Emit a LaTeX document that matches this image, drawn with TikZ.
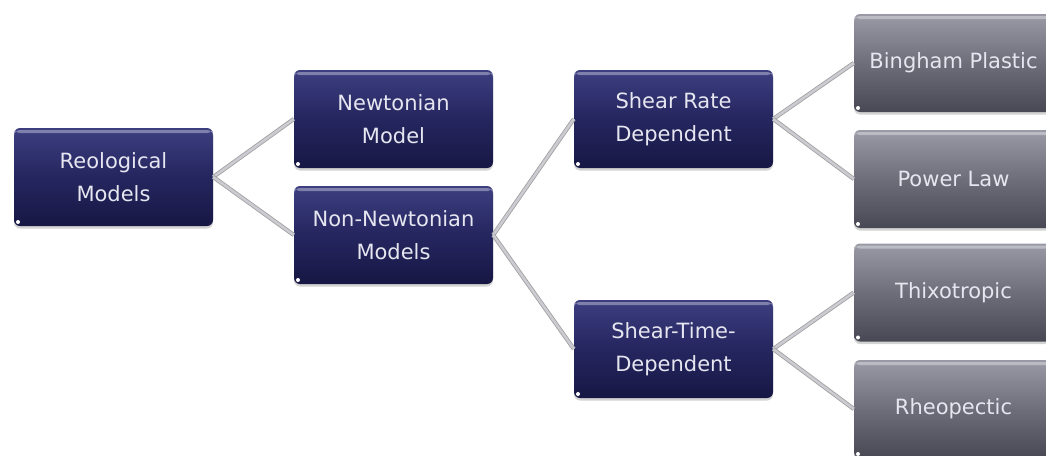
\documentclass[tikz,border=0pt]{standalone}
\usepackage{fontspec}
\setmainfont{DejaVu Sans}
\usepackage{xcolor}
\usepackage{tikz}
\usetikzlibrary{positioning,shadows}
\definecolor{navytop}{HTML}{3C3E80}
\definecolor{navymid}{HTML}{25265F}
\definecolor{navybot}{HTML}{171744}
\definecolor{greytop}{HTML}{9A9AA6}
\definecolor{greymid}{HTML}{6E6E7A}
\definecolor{greybot}{HTML}{484854}
\definecolor{boxtext}{HTML}{E6E6F0}
\definecolor{linkline}{HTML}{CBCBD1}

\begin{document}
\begin{tikzpicture}[x=1pt,y=-1pt,
	model/.style={rectangle,rounded corners=6pt,minimum width=199pt,minimum height=98pt,
		inner sep=0pt,align=center,text=boxtext,font=\fontsize{21}{33}\selectfont,
		drop shadow={opacity=0.35,shadow xshift=0pt,shadow yshift=-2.5pt},
		path picture={\fill[white] (path picture bounding box.south west) ++(4pt,4pt) circle (2pt);
			\fill[white,opacity=0.35] (path picture bounding box.north west) ++(0,-2pt) rectangle ++(199pt,-3pt);}},
	inner/.style={model,top color=navytop,bottom color=navybot,middle color=navymid},
	leaf/.style={model,top color=greytop,bottom color=greybot,middle color=greymid},
	link/.style={draw=gray!75,double=linkline,double distance=2.6pt,line width=0.8pt}]
		\useasboundingbox (0,0) rectangle (1046,455);
		\node[inner] (reo) at (113.5,177) {Reological\\Models};
		\node[inner] (newt) at (393.5,119) {Newtonian\\Model};
		\node[inner] (nonnewt) at (393.5,235) {Non-Newtonian\\Models};
		\node[inner] (srate) at (673.5,119) {Shear Rate\\Dependent};
		\node[inner] (stime) at (673.5,349) {Shear-Time-\\Dependent};
		\node[leaf] (bingham) at (953.5,63) {Bingham Plastic};
		\node[leaf] (power) at (953.5,179) {Power Law};
		\node[leaf] (thixo) at (953.5,292.5) {Thixotropic};
		\node[leaf] (rheo) at (953.5,409) {Rheopectic};

		% links between levels
		\draw[link] (reo.east) -- (newt.west);
		\draw[link] (reo.east) -- (nonnewt.west);
		\draw[link] (nonnewt.east) -- (srate.west);
		\draw[link] (nonnewt.east) -- (stime.west);
		\draw[link] (srate.east) -- (bingham.west);
		\draw[link] (srate.east) -- (power.west);
		\draw[link] (stime.east) -- (thixo.west);
		\draw[link] (stime.east) -- (rheo.west);
\end{tikzpicture}
\end{document}
